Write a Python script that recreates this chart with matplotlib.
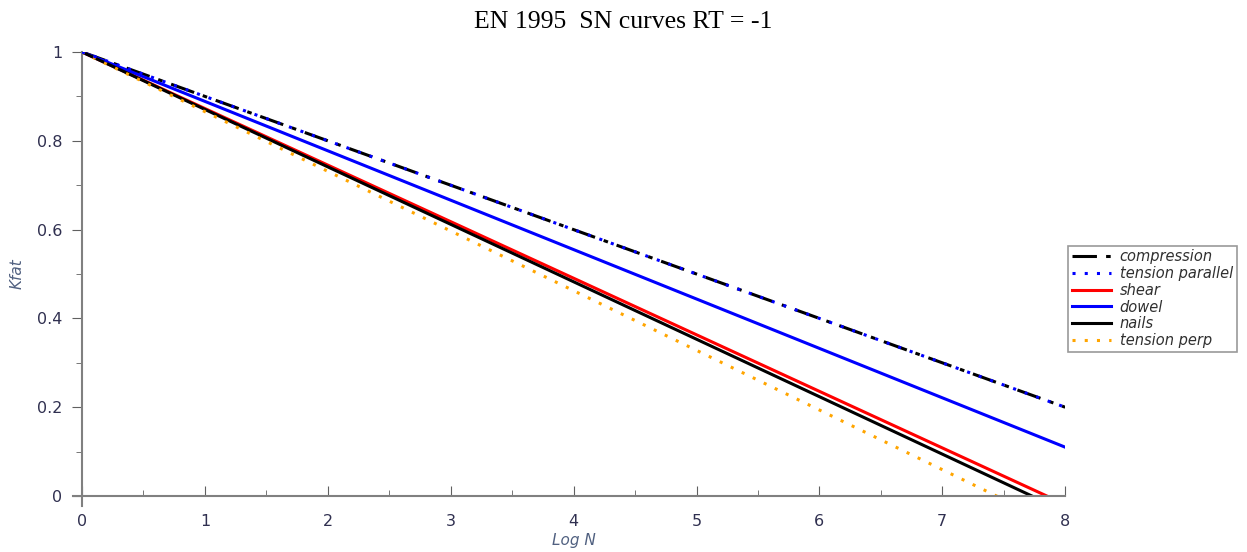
import matplotlib.pyplot as plt
from matplotlib.ticker import MultipleLocator

# Kfat at log N = 0 and log N = 8
log_n = [0, 8]
compression = [1.0, 0.20]
tension_parallel = [1.0, 0.20]
shear = [1.0, -0.019]
dowel = [1.0, 0.11]
nails = [1.0, -0.035]
tension_perp = [1.0, -0.075]

fig = plt.figure(figsize=(12.47, 5.52), dpi=100)
ax = fig.add_axes([0.0658, 0.1014, 0.7884, 0.8044])

ax.plot(log_n, tension_parallel, color='blue', ls=(0, (1, 3)), lw=2.2, label='tension parallel', zorder=3)
ax.plot(log_n, compression, color='black', ls=(0, (8, 3, 1.5, 3)), lw=2.2, label='compression', zorder=2)
ax.plot(log_n, shear, color='red', lw=2.2, label='shear')
ax.plot(log_n, dowel, color='blue', lw=2.2, label='dowel')
ax.plot(log_n, nails, color='black', lw=2.2, label='nails')
ax.plot(log_n, tension_perp, color='orange', ls=(0, (1, 3)), lw=2.2, label='tension perp')

ax.set_xlim(0, 8)
ax.set_ylim(0, 1)
for s in ['top', 'right']:
    ax.spines[s].set_visible(False)
for s in ['left', 'bottom']:
    ax.spines[s].set_color('#808080')
    ax.spines[s].set_linewidth(1.5)
ax.spines['left'].set_bounds(-0.022, 1)
ax.spines['bottom'].set_bounds(-0.07, 8)

ax.xaxis.set_major_locator(MultipleLocator(1))
ax.xaxis.set_minor_locator(MultipleLocator(0.5))
ax.yaxis.set_major_locator(MultipleLocator(0.2))
ax.yaxis.set_minor_locator(MultipleLocator(0.1))
ax.yaxis.set_major_formatter(lambda v, p: '0' if abs(v) < 1e-9 else ('1' if abs(v - 1) < 1e-9 else f'{v:.1f}'))
ax.tick_params(axis='x', which='both', direction='in', color='#606060', labelsize=11.5, labelcolor='#303050', pad=13)
ax.tick_params(axis='x', which='major', length=7)
ax.tick_params(axis='x', which='minor', length=4)
ax.tick_params(axis='y', which='both', direction='out', color='#606060', labelsize=11.5, labelcolor='#303050', pad=7)
ax.tick_params(axis='y', which='major', length=7)
ax.tick_params(axis='y', which='minor', length=4)

ax.set_xlabel('Log N', fontstyle='italic', fontsize=11, color='#506080', labelpad=3)
ax.set_ylabel('Kfat', fontstyle='italic', fontsize=11, color='#506080', labelpad=9)
fig.suptitle('EN 1995  SN curves RT = -1', family='Liberation Serif', fontsize=18.5, y=0.98)

h, l = ax.get_legend_handles_labels()
order = [1, 0, 2, 3, 4, 5]
leg = ax.legend([h[i] for i in order], [l[i] for i in order],
                loc='upper left', bbox_to_anchor=(0.8565, 0.555), bbox_transform=fig.transFigure,
                prop={'style': 'italic', 'size': 10.5}, frameon=True, fancybox=False,
                edgecolor='#808080', handlelength=2.7, handletextpad=0.6, labelspacing=0.12,
                borderpad=0.25, borderaxespad=0)
leg.get_frame().set_linewidth(1.2)
for t in leg.get_texts():
    t.set_color('#303030')

fig.savefig('out.png', dpi=100)
